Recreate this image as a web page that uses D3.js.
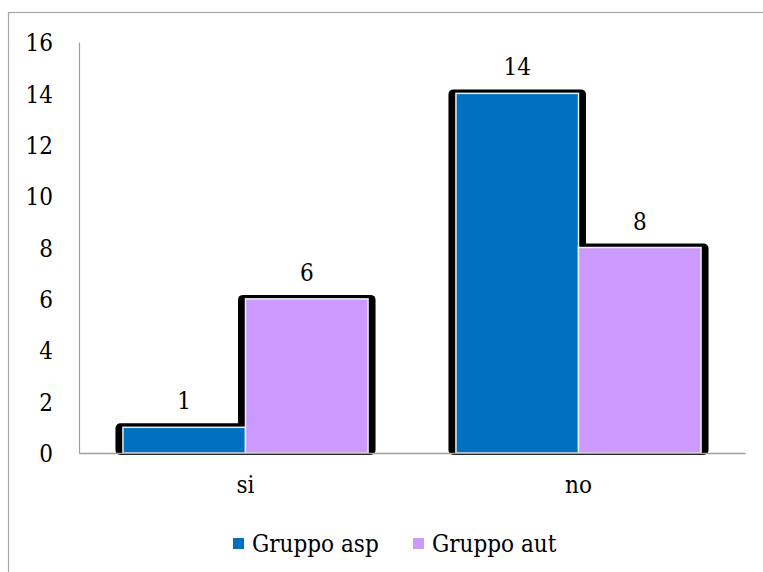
<!DOCTYPE html>
<html>
<head>
<meta charset="utf-8">
<script src="https://cdn.jsdelivr.net/npm/d3@7"></script>
<style>
  html, body { margin: 0; padding: 0; background: #fff; }
  svg { display: block; }
</style>
</head>
<body>
<svg id="chart" width="763" height="572"></svg>
<script>
const categories = ["si", "no"];
const seriesNames = ["Gruppo asp", "Gruppo aut"];
const seriesColors = ["#0070C0", "#CC99FF"];
const gruppoAsp = [1, 14];
const gruppoAut = [6, 8];
const yTicks = [0, 2, 4, 6, 8, 10, 12, 14, 16];

const FONT = "'DejaVu Serif Condensed', 'DejaVu Serif', serif";
const FS = 24;
const seriesValues = [gruppoAsp, gruppoAut];
const svg = d3.select("#chart").style("font-family", FONT);
const W = 763, H = 572;
const m = { left: 79, right: 18, top: 42, bottom: 119 };

// outer border
svg.append("rect").attr("x", 8.5).attr("y", 12.5).attr("width", 800).attr("height", 700)
  .attr("fill", "none").attr("stroke", "#a6a6a6").attr("stroke-width", 1.2);

const y = d3.scaleLinear().domain([0, 16]).range([H - m.bottom, m.top]);
const x0 = d3.scaleBand().domain(categories).range([m.left, W - m.right])
  .paddingInner(0.264).paddingOuter(0.132);
const x1 = d3.scaleBand().domain(seriesNames).range([0, x0.bandwidth()]);

// y axis
const yAxis = d3.axisLeft(y).tickValues(yTicks).tickSize(0).tickPadding(26);
const gy = svg.append("g").attr("transform", `translate(${m.left},0)`).call(yAxis)
  .attr("font-family", null);
gy.select(".domain").attr("stroke", "#a0a0a0").attr("stroke-width", 1.2);
gy.selectAll("text").attr("font-size", FS).style("font-family", FONT).attr("dy", "0.36em");

const bars = [];
categories.forEach((c, i) => {
  seriesNames.forEach((s, j) => {
    bars.push({ c, s, j, v: seriesValues[j][i] });
  });
});

// shadows
svg.append("g").selectAll("rect").data(bars).join("rect")
  .attr("x", d => x0(d.c) + x1(d.s) - 7.5)
  .attr("y", d => y(d.v) - 4)
  .attr("width", x1.bandwidth() + 15)
  .attr("height", d => y(0) - y(d.v) + 6)
  .attr("rx", 5)
  .attr("fill", "#000");

// bars
svg.append("g").selectAll("rect").data(bars).join("rect")
  .attr("x", d => x0(d.c) + x1(d.s))
  .attr("y", d => y(d.v))
  .attr("width", x1.bandwidth())
  .attr("height", d => y(0) - y(d.v))
  .attr("fill", d => seriesColors[d.j])
  .attr("stroke", "#eeeeee")
  .attr("stroke-width", 1.5);

// x axis
const xAxis = d3.axisBottom(x0).tickSize(0).tickPadding(23);
const gx = svg.append("g").attr("transform", `translate(0,${y(0)})`).call(xAxis)
  .attr("font-family", null);
gx.select(".domain").attr("stroke", "#a0a0a0").attr("stroke-width", 1.5);
gx.selectAll("text").attr("font-size", FS).style("font-family", FONT);

// data labels
svg.append("g").selectAll("text").data(bars).join("text")
  .attr("x", d => x0(d.c) + x1(d.s) + x1.bandwidth() / 2)
  .attr("y", d => y(d.v) - 18)
  .attr("text-anchor", "middle")
  .attr("font-size", FS)
  .style("font-family", FONT)
  .text(d => d.v);

// legend
const legendX = [233, 413];
const lg = svg.append("g");
seriesNames.forEach((s, j) => {
  lg.append("rect").attr("x", legendX[j]).attr("y", 538).attr("width", 11).attr("height", 11)
    .attr("fill", seriesColors[j]);
  lg.append("text").attr("x", legendX[j] + 19).attr("y", 552)
    .attr("font-size", FS).style("font-family", FONT).text(s);
});
</script>
</body>
</html>
